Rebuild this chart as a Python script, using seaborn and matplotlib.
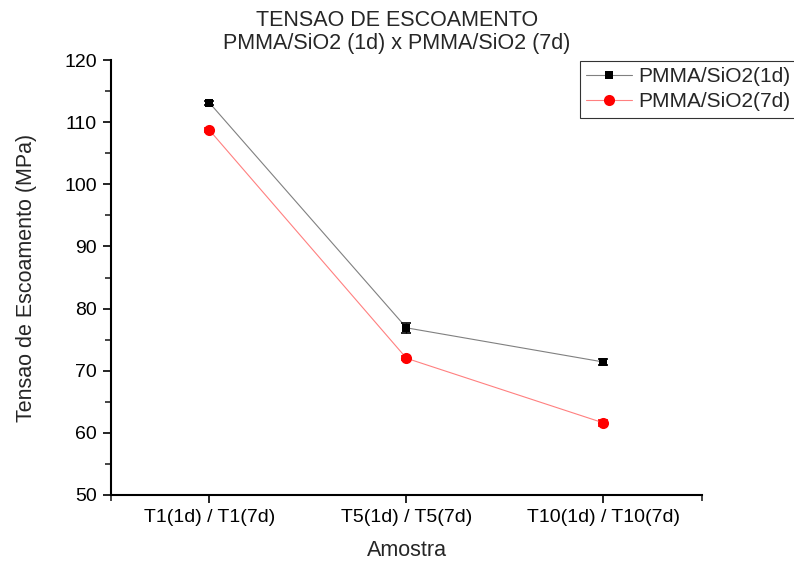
import matplotlib
matplotlib.use("Agg")
import matplotlib.pyplot as plt
import seaborn as sns
import pandas as pd
import numpy as np
from matplotlib.lines import Line2D

# Data
samples = ["T1(1d) / T1(7d)", "T5(1d) / T5(7d)", "T10(1d) / T10(7d)"]
series_1d = [113.1, 76.9, 71.4]
err_1d = [0.35, 0.8, 0.45]
series_7d = [108.7, 72.0, 61.6]
err_7d = [0.3, 0.3, 0.5]
label_1d = "PMMA/SiO2(1d)"
label_7d = "PMMA/SiO2(7d)"

sns.set_theme(style="ticks")
plt.rcParams["font.family"] = ["Liberation Sans", "DejaVu Sans"]

x = np.arange(1, len(samples) + 1)
df = pd.DataFrame({
    "pos": np.concatenate([x, x]),
    "val": series_1d + series_7d,
    "serie": [label_1d] * 3 + [label_7d] * 3,
})

fig = plt.figure(figsize=(7.94, 5.63), dpi=100)
ax = fig.add_axes([0.1398, 0.1208, 0.7443, 0.7726])

palette = {label_1d: "#000000", label_7d: "#ff0000"}
sns.lineplot(data=df, x="pos", y="val", hue="serie", style="serie",
             markers={label_1d: "s", label_7d: "o"}, dashes=False,
             palette=palette, ax=ax, legend=False, linewidth=0.8,
             markersize=7, markeredgewidth=0)
# Connecting lines are lighter than the markers
ax.lines[0].set_color("#808080")
ax.lines[0].set_markerfacecolor("#000000")
ax.lines[0].set_markeredgecolor("#000000")
ax.lines[0].set_markersize(6)
ax.lines[1].set_color("#ff8080")
ax.lines[1].set_markerfacecolor("#ff0000")
ax.lines[1].set_markeredgecolor("#ff0000")
ax.lines[1].set_markersize(8)

ax.errorbar(x, series_1d, yerr=err_1d, fmt="none", ecolor="black",
            elinewidth=1, capsize=3.5, capthick=1.2, zorder=5)
ax.errorbar(x, series_7d, yerr=err_7d, fmt="none", ecolor="red",
            elinewidth=1, capsize=3.5, capthick=1.2, zorder=5)

ax.set_xlim(0.5, 3.5)
ax.set_ylim(50, 120)
ax.set_xticks(x)
ax.set_xticklabels(samples)
ax.set_yticks(np.arange(50, 121, 10))
ax.set_yticks(np.arange(55, 120, 10), minor=True)
ax.set_xticks([0.5, 3.5], minor=True)
ax.tick_params(axis="both", which="major", direction="out", length=6,
               width=1.2, labelsize=14, colors="black", pad=4)
ax.tick_params(axis="both", which="minor", direction="out", length=4, width=1.2)

for side in ["top", "right"]:
    ax.spines[side].set_visible(False)
for side in ["left", "bottom"]:
    ax.spines[side].set_linewidth(1.5)
    ax.spines[side].set_color("black")

ax.set_xlabel("Amostra", fontsize=15.5, labelpad=10)
ax.set_ylabel("Tensao de Escoamento (MPa)", fontsize=15.5, labelpad=20)
fig.suptitle("TENSAO DE ESCOAMENTO\nPMMA/SiO2 (1d) x PMMA/SiO2 (7d)",
             fontsize=15.5, y=0.983, x=0.5, linespacing=1.15)

handles = [
    Line2D([], [], color="#808080", lw=0.8, marker="s", markersize=6,
           markerfacecolor="black", markeredgewidth=0),
    Line2D([], [], color="#ff8080", lw=0.8, marker="o", markersize=8,
           markerfacecolor="red", markeredgewidth=0),
]
leg = fig.legend(handles, [label_1d, label_7d], loc="upper left",
                 bbox_to_anchor=(0.730, 0.892), bbox_transform=fig.transFigure,
                 fontsize=15, frameon=True, fancybox=False, handlelength=2.2,
                 handletextpad=0.3, borderpad=0.3, labelspacing=0.3,
                 borderaxespad=0)
leg.get_frame().set_edgecolor("black")
leg.get_frame().set_linewidth(0.8)

fig.savefig("out.png", dpi=100)
